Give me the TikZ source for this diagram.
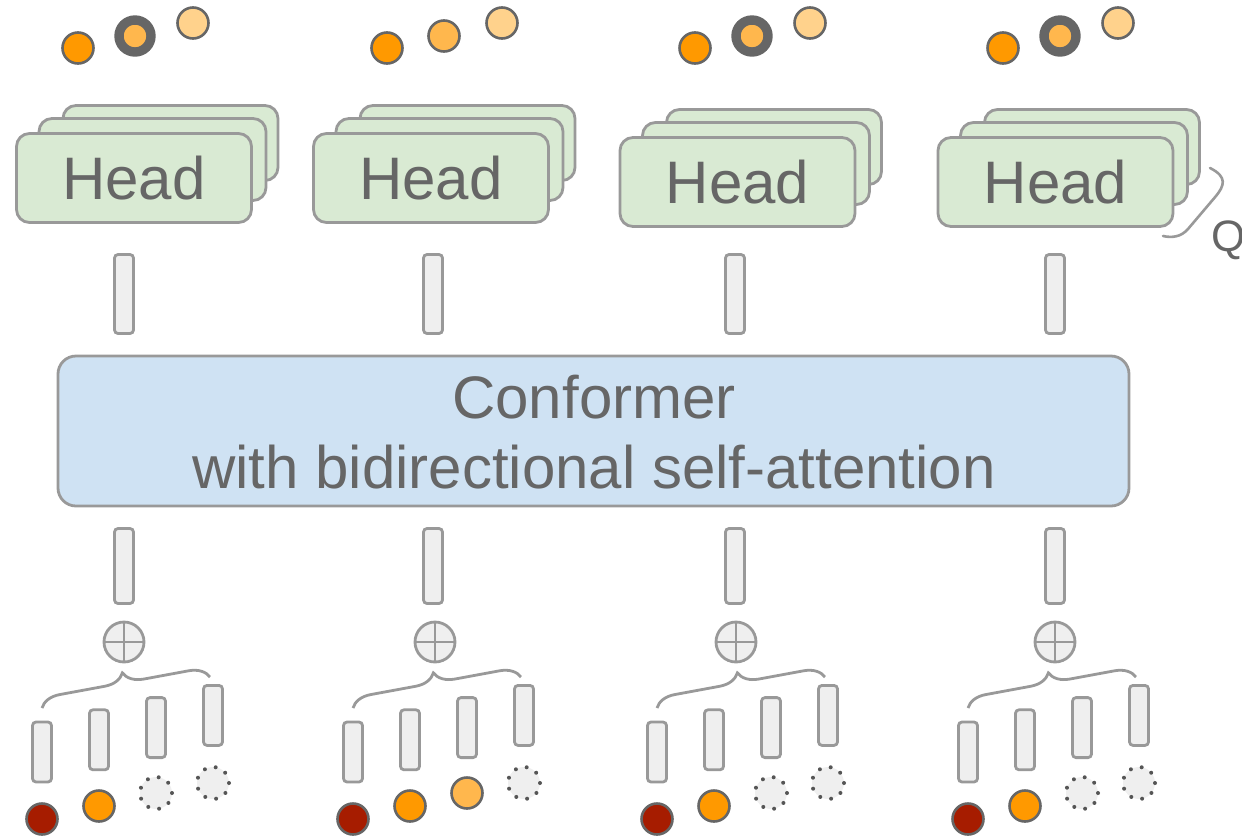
\documentclass[tikz,border=0pt]{standalone}
\usepackage{fontspec}
\setmainfont{Liberation Sans}
\usetikzlibrary{decorations.pathreplacing}

\definecolor{edge}{HTML}{999999}
\definecolor{barfill}{HTML}{EFEFEF}
\definecolor{headfill}{HTML}{D9EAD3}
\definecolor{conffill}{HTML}{CFE2F3}
\definecolor{txt}{HTML}{666666}
\definecolor{tokline}{HTML}{666666}
\definecolor{dotcol}{HTML}{555555}
\definecolor{tokred}{HTML}{A61C00}
\definecolor{tokorange}{HTML}{FF9900}
\definecolor{tokmid}{HTML}{FFB74D}
\definecolor{toklight}{HTML}{FFD28C}

\tikzset{
  edgeline/.style={draw=edge, line width=2.8pt},
  headbox/.style={edgeline, fill=headfill, rounded corners=13pt, inner sep=0pt,
    text=txt, font=\fontsize{60}{72}\selectfont},
  bar/.style={edgeline, fill=barfill, rounded corners=3.5pt, inner sep=0pt, minimum width=19pt},
  tok/.style={circle, draw=tokline, line width=2.6pt, minimum size=31pt, inner sep=0pt},
  ringtok/.style={circle, draw=tokline, line width=9.4pt, minimum size=32pt, inner sep=0pt, fill=tokmid},
  emptytok/.style={circle, fill=barfill, draw=dotcol, line width=4pt, line cap=round,
    dash pattern=on 0pt off 11.2pt, minimum size=32pt, inner sep=0pt},
  sumnode/.style={circle, edgeline, fill=barfill, minimum size=40pt, inner sep=0pt,
    path picture={\draw[edge, line width=2.8pt]
      (path picture bounding box.north) -- (path picture bounding box.south)
      (path picture bounding box.west) -- (path picture bounding box.east);}},
  bracestyle/.style={draw=edge, line width=2.8pt, decorate,
    decoration={brace, amplitude=20pt}},
  labeltext/.style={text=txt, inner sep=0pt}
}

\begin{document}
\begin{tikzpicture}[x=1pt, y=-1pt]
\useasboundingbox (0,0) rectangle (1242,839);
\clip (0,0) rectangle (1242,839);

% stacked output heads
\foreach \i/\cx/\cy in {1/134/178, 2/431/178, 3/737.5/182, 4/1055.5/182} {
  \node[headbox, minimum width=215pt, minimum height=75pt] (hb\i) at (\cx+36.5,\cy-35) {};
  \node[headbox, minimum width=227pt, minimum height=82pt] (hm\i) at (\cx+18.5,\cy-18.5) {};
  \node[headbox, minimum width=235pt, minimum height=89pt] (hf\i) at (\cx,\cy) {Head};
}

% predicted tokens above each head
\foreach \i/\dx/\ring in {1/78/1, 2/387/0, 3/695/1, 4/1003/1} {
  \node[tok, fill=tokorange] (pa\i) at (\dx,48) {};
  \ifnum\ring=1
    \node[ringtok] (pb\i) at (\dx+57,36) {};
  \else
    \node[tok, fill=tokmid] (pb\i) at (\dx+57,36) {};
  \fi
  \node[tok, fill=toklight] (pc\i) at (\dx+115,23) {};
}

% Q bracket beside the last head stack
\coordinate (qa) at (1210,168);
\coordinate (qb) at (1163,236);
\draw[edge, line width=2.6pt, line cap=round]
  (qa) .. controls (1228,177) and (1224,186) .. (1216,196)
  -- (1188,229) .. controls (1181,237) and (1172,238) .. (qb);
\node[labeltext, anchor=base west, font=\fontsize{44}{52}\selectfont] (qlab) at (1211,251) {Q};

% encoder
\node[edgeline, fill=conffill, rounded corners=18pt, minimum width=1071pt,
  minimum height=150pt, inner sep=0pt] (conf) at (593.5,431) {};
\node[labeltext, anchor=base, font=\fontsize{60}{70}\selectfont] (conf1) at (594,418) {Conformer};
\node[labeltext, anchor=base, font=\fontsize{60}{70}\selectfont] (conf2) at (594,488) {with bidirectional self-attention};

% per-frame vectors, sums and input token stacks
\foreach \i/\tx/\sx/\bx in {1/124/124/42, 2/433/435/353, 3/735/736/657, 4/1055/1055/968} {
  \node[bar, minimum height=79pt] (tb\i) at (\tx,294) {};
  \node[bar, minimum height=75pt] (ub\i) at (\tx,566) {};
  \node[sumnode] (sum\i) at (\sx,642) {};
  \foreach \j in {0,...,3} {
    \node[bar, minimum height=60pt] (e\i\j) at (\bx+57*\j, 752-12.2*\j) {};
  }
  \coordinate (bl\i) at (\bx,708);
  \coordinate (br\i) at (\bx+168,677);
  \draw[bracestyle] (bl\i) -- (br\i);
  \node[tok, fill=tokred] (t\i0) at (\bx,819) {};
  \node[tok, fill=tokorange] (t\i1) at (\bx+57,806) {};
  \ifnum\i=2
    \node[tok, fill=tokmid] (t\i2) at (\bx+114,793) {};
  \else
    \node[emptytok] (t\i2) at (\bx+114,793) {};
  \fi
  \node[emptytok] (t\i3) at (\bx+171,783) {};
}
\end{tikzpicture}
\end{document}
